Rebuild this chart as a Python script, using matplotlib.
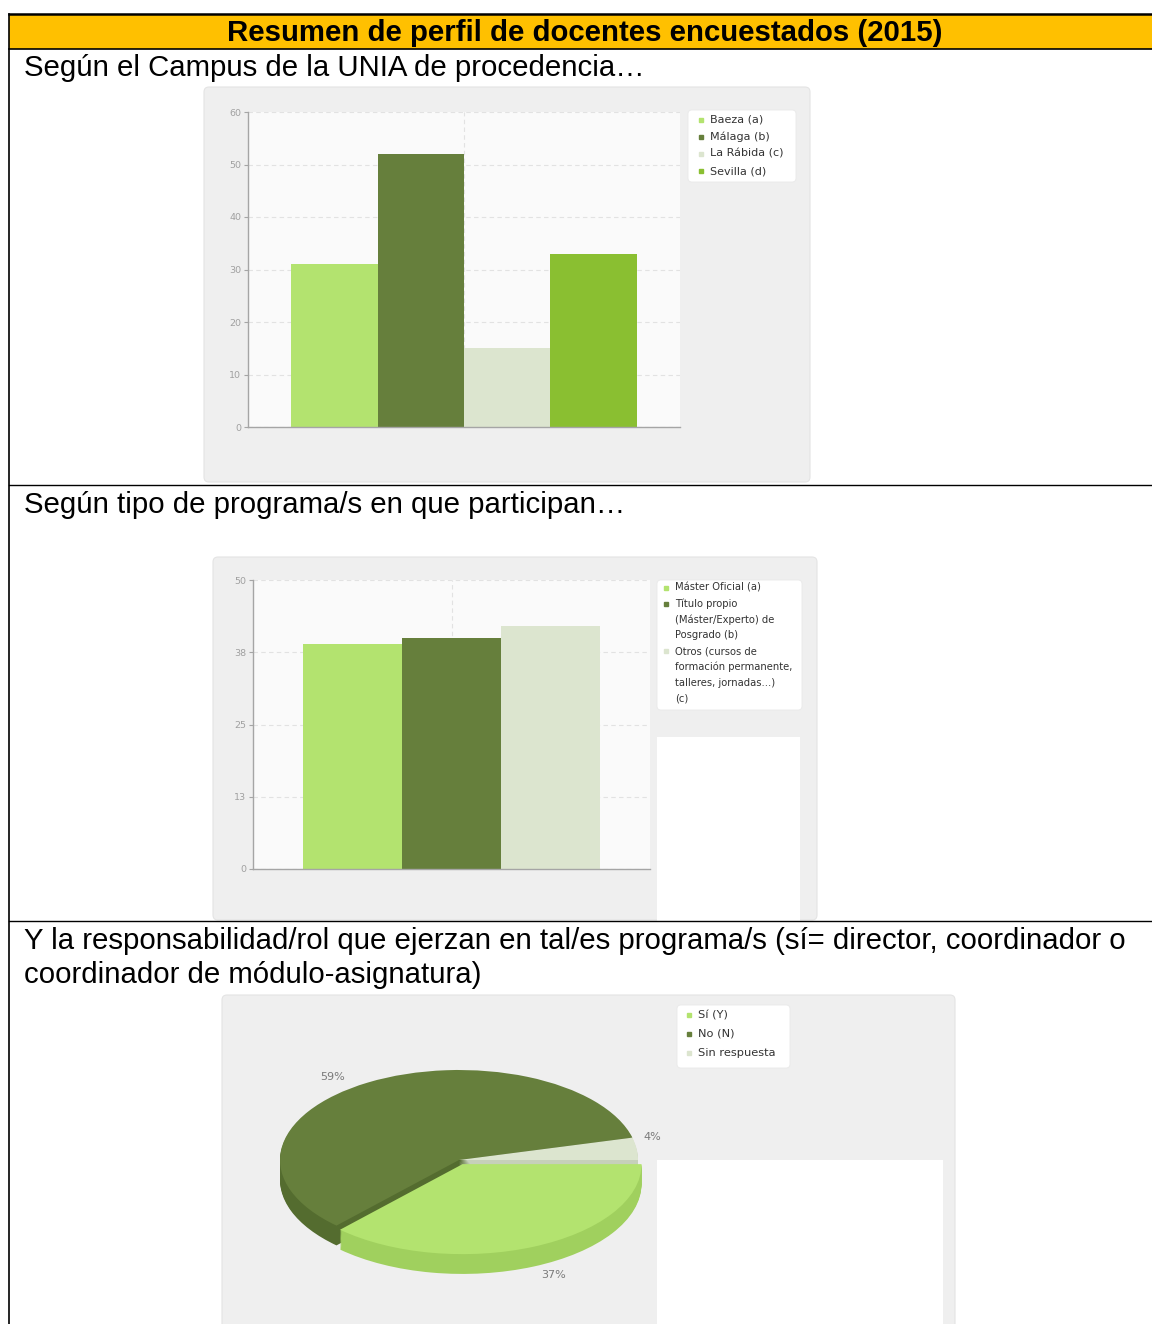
import matplotlib
matplotlib.use('Agg')
import matplotlib.pyplot as plt
import matplotlib.patches as patches

W, H = 1152, 1324

# --- data ---
campus = ['Baeza (a)', 'Málaga (b)', 'La Rábida (c)', 'Sevilla (d)']
campus_values = [31, 52, 15, 33]
campus_ticks = [0, 10, 20, 30, 40, 50, 60]

programas = ['Máster Oficial (a)',
             'Título propio\n(Máster/Experto) de\nPosgrado (b)',
             'Otros (cursos de\nformación permanente,\ntalleres, jornadas...)\n(c)']
programa_values = [39, 40, 42]
programa_ticks = [0, 12.5, 25, 37.5, 50]
programa_ticklabels = ['0', '13', '25', '38', '50']

rol = ['Sí (Y)', 'No (N)', 'Sin respuesta']
rol_values = [37, 59, 4]

# colours
light = '#b3e36f'
dark = '#667f3c'
pale = '#dce5cf'
mid = '#8abf31'
campus_colors = [light, dark, pale, mid]
programa_colors = [light, dark, pale]
rol_colors = [light, dark, pale]
rol_side_colors = ['#a0d05e', '#546c2f', '#c6d0ba']
rol_explode = [0.05, 0, 0]

doc_font = 'Liberation Sans'
doc_size = 21.2


def frect(x0, y0, x1, y1):
    return [x0 / W, 1 - y1 / H, (x1 - x0) / W, (y1 - y0) / H]


fig = plt.figure(figsize=(W / 100, H / 100), dpi=100)
fig.patch.set_facecolor('white')

# background "document" axes in pixel coords
bg = fig.add_axes([0, 0, 1, 1])
bg.set_xlim(0, W)
bg.set_ylim(H, 0)
bg.axis('off')

# header band and table lines
bg.add_patch(patches.Rectangle((9, 14), W, 35, fc='#ffc000', ec='none'))
bg.plot([9, W], [14, 14], color='black', lw=1.8)
bg.plot([9, W], [49, 49], color='black', lw=1.2)
bg.plot([9, 9], [14, H], color='black', lw=1.2)
bg.plot([9, W], [485, 485], color='black', lw=1.0)
bg.plot([9, W], [921, 921], color='black', lw=1.0)

bg.text(585, 33, 'Resumen de perfil de docentes encuestados (2015)', ha='center', va='center',
        fontsize=doc_size, fontweight='bold', family=doc_font)
bg.text(24, 68, 'Según el Campus de la UNIA de procedencia…', ha='left', va='center',
        fontsize=doc_size, family=doc_font)
bg.text(24, 505, 'Según tipo de programa/s en que participan…', ha='left', va='center',
        fontsize=doc_size, family=doc_font)
bg.text(24, 941, 'Y la responsabilidad/rol que ejerzan en tal/es programa/s (sí= director, coordinador o',
        ha='left', va='center', fontsize=doc_size, family=doc_font)
bg.text(24, 975, 'coordinador de módulo-asignatura)', ha='left', va='center',
        fontsize=doc_size, family=doc_font)

# grey chart panels
for (x0, y0, x1, y1) in [(204, 87, 810, 482), (213, 557, 817, 920), (222, 995, 955, 1330)]:
    bg.add_patch(patches.FancyBboxPatch((x0, y0), x1 - x0, y1 - y0,
                                        boxstyle='round,pad=0,rounding_size=5',
                                        fc='#efefef', ec='#e4e4e4', lw=0.8))

# white blocks pasted over the panels
bg.add_patch(patches.Rectangle((657, 737), 143, 190, fc='white', ec='none'))
bg.add_patch(patches.Rectangle((657, 1160), 286, 170, fc='white', ec='none'))


def legend_box(box, names, colors, first_y, line_h, marker_x, text_x, fs):
    x0, y0, x1, y1 = box
    bg.add_patch(patches.FancyBboxPatch((x0, y0), x1 - x0, y1 - y0,
                                        boxstyle='round,pad=0,rounding_size=4',
                                        fc='white', ec='#e9e9e9', lw=0.6, zorder=3))
    y = first_y
    for name, c in zip(names, colors):
        bg.plot([marker_x], [y], marker='s', ms=2.8, color=c, ls='', zorder=4)
        nlines = name.count('\n') + 1
        for k, line in enumerate(name.split('\n')):
            bg.text(text_x, y + k * line_h, line, ha='left', va='center',
                    fontsize=fs, color='#333333', zorder=4)
        y += nlines * line_h


def bar_chart(rect, values, colors, ticks, ticklabels):
    ax = fig.add_axes(rect)
    n = len(values)
    ax.bar(range(n), values, width=1.0, color=colors, linewidth=0, zorder=2)
    ax.set_xlim(-1, n)
    ax.set_ylim(ticks[0], ticks[-1])
    ax.set_facecolor('#fafafa')
    ax.set_yticks(ticks)
    ax.set_yticklabels(ticklabels)
    ax.set_xticks([])
    ax.yaxis.grid(True, ls=(0, (4, 3)), color='#e2e2e2', lw=0.8)
    ax.axvline((n - 1) / 2, ls=(0, (4, 3)), color='#e2e2e2', lw=0.8, zorder=1)
    ax.set_axisbelow(True)
    for s in ['top', 'right']:
        ax.spines[s].set_visible(False)
    for s in ['left', 'bottom']:
        ax.spines[s].set_color('#a5a5a5')
        ax.spines[s].set_linewidth(1.0)
    ax.tick_params(axis='y', length=3, color='#a5a5a5', labelsize=6.8, labelcolor='#a0a0a0', pad=2)
    return ax


ax1 = bar_chart(frect(248, 112, 680, 427), campus_values, campus_colors,
                campus_ticks, [str(t) for t in campus_ticks])
legend_box((688, 110, 796, 182), campus, campus_colors, 120, 17, 701, 710, 8)

ax2 = bar_chart(frect(253, 580, 650, 869), programa_values, programa_colors,
                programa_ticks, programa_ticklabels)
legend_box((657, 580, 802, 710), programas, programa_colors, 588, 15.8, 666, 675, 7.2)

# --- 3D-looking pie ---
cx, cy, rx, ry = 459, 1160, 179, 90
x_lo, x_hi, y_lo, y_hi = -1.5, 1.5, -1.6, 1.3
pax = fig.add_axes(frect(cx + x_lo * rx, cy - y_hi * ry, cx + x_hi * rx, cy - y_lo * ry))
pax.set_facecolor('none')
depth = 0.22
n_layers = 18
for k in range(n_layers, 0, -1):
    pax.pie(rol_values, colors=rol_side_colors, startangle=0, counterclock=False,
            explode=rol_explode, center=(0, -depth * k / n_layers),
            wedgeprops=dict(linewidth=0))
wedges, texts = pax.pie(rol_values, colors=rol_colors, startangle=0, counterclock=False,
                        explode=rol_explode, labels=[f'{v}%' for v in rol_values],
                        labeldistance=1.1, wedgeprops=dict(linewidth=0),
                        textprops=dict(fontsize=8, color='#7a7a7a'))
for t in texts:
    tx, ty = t.get_position()
    if ty < 0:
        t.set_position((tx, ty - depth))
    elif tx < 0:
        t.set_position((tx - 0.08, ty - 0.02))
    else:
        t.set_position((tx - 0.06, ty + 0.12))
pax.set_aspect('auto')
pax.set_xlim(x_lo, x_hi)
pax.set_ylim(y_lo, y_hi)
pax.axis('off')
legend_box((677, 1005, 790, 1068), rol, rol_colors, 1015, 19, 689, 698, 8.2)

fig.savefig('out.png', dpi=100, facecolor='white')
